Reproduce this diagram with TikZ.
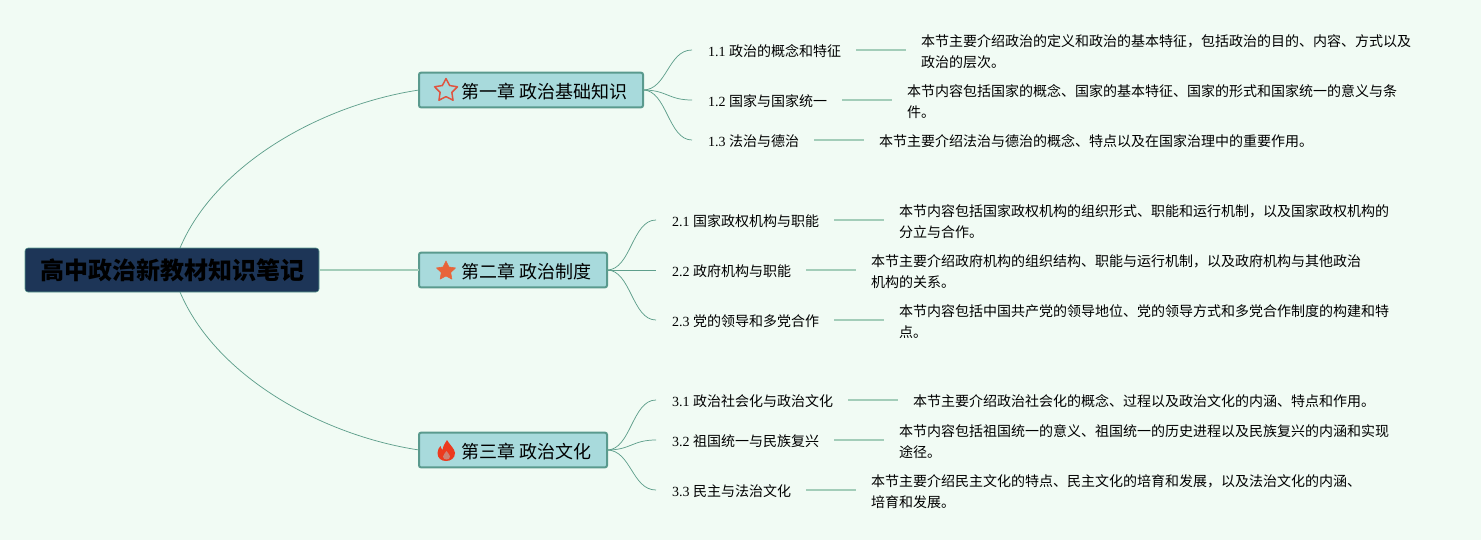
\documentclass[tikz,border=0pt]{standalone}
\usepackage{fontspec}
\setmainfont{Liberation Serif}
\newfontfamily\cjk{Noto Sans CJK SC}
\usetikzlibrary{shapes.geometric}
\definecolor{bgc}{HTML}{F1FBF4}
\definecolor{rootc}{HTML}{1D3557}
\definecolor{chapc}{HTML}{A8DADC}
\definecolor{chapb}{HTML}{5A9A8E}
\definecolor{linec}{HTML}{5F9F8C}
\definecolor{barc}{HTML}{A3CDB9}
\definecolor{starline}{HTML}{E0533F}
\definecolor{starfill}{HTML}{E8643A}
\definecolor{flamec}{HTML}{EC3A1E}
\newcommand{\zh}[1]{{\cjk #1}}
\tikzset{
  x=0.75pt,y=-0.75pt,
  rootbox/.style={draw=chapb,line width=0.4pt,outer sep=0pt,fill=rootc,rounded corners=2.2pt,minimum width=220.5pt,minimum height=33pt,inner sep=0pt,text=black,font=\cjk\fontsize{18pt}{22pt}\selectfont\bfseries},
  chapbox/.style={draw=chapb,line width=1.5pt,outer sep=0pt,fill=chapc,rounded corners=1.5pt,minimum height=26pt,inner sep=0pt,text=black,anchor=west,font=\cjk\fontsize{13.5pt}{16pt}\selectfont},
  chaptext/.style={anchor=west,inner sep=0pt,text=black,font=\cjk\fontsize{13.5pt}{16pt}\selectfont},
  secnode/.style={anchor=west,inner xsep=12pt,inner ysep=2pt,outer sep=0pt,text=black,font=\fontsize{10.5pt}{15.75pt}\selectfont},
  detnode/.style={anchor=west,inner xsep=11.25pt,inner ysep=0pt,outer sep=0pt,align=left,text=black,font=\cjk\fontsize{10.5pt}{15.75pt}\selectfont},
  branch/.style={draw=linec,line width=0.55pt},
  bar/.style={draw=barc,line width=1pt},
}
\begin{document}
\begin{tikzpicture}
\useasboundingbox[fill=bgc] (0,0) rectangle (1481,540);
% root
\node[rootbox] (root) at (172,270) {高中政治新教材知识笔记};
\coordinate (rootT) at (180,248);
\coordinate (rootB) at (180,292);
% chapters
\node[chapbox,minimum width=168pt] (c1) at (419,90) {};
\node[chapbox,minimum width=141pt] (c2) at (419,270) {};
\node[chapbox,minimum width=141pt] (c3) at (419,450) {};
\node[chaptext] (t1) at (461.5,91.5) {第一章 政治基础知识};
\node[chaptext] (t2) at (461.5,271.5) {第二章 政治制度};
\node[chaptext] (t3) at (461.5,451.5) {第三章 政治文化};
% icons
\node[star,star points=5,star point ratio=1.95,minimum size=18pt,inner sep=0pt,draw=starline,fill=chapc,line width=1.1pt,line join=round] (i1) at (446,90.5) {};
\node[star,star points=5,star point ratio=2.0,minimum size=15pt,inner sep=0pt,fill=starfill,draw=starfill,line width=0.4pt,line join=round] (i2) at (446,271) {};
\fill[flamec] (447,440) .. controls (449,444) and (455,449) .. (455,453)
  .. controls (455,458) and (451,461) .. (446,461)
  .. controls (441,461) and (437.5,458) .. (437.5,453)
  .. controls (437.5,450) and (439,447.5) .. (440.5,446)
  .. controls (441,448) and (441.5,449) .. (442.5,450)
  .. controls (443,446) and (445,443) .. (447,440) -- cycle;
\fill[chapc!45!flamec] (446.5,451) .. controls (447.5,453) and (450,454.5) .. (450,456.5)
  .. controls (450,458.5) and (448.5,459.5) .. (446.5,459.5)
  .. controls (444.5,459.5) and (443,458.5) .. (443,456.5)
  .. controls (443,454.5) and (445.5,453) .. (446.5,451) -- cycle;
% level-2 nodes
\node[secnode] (s11) at (692,51) {1.1 \zh{政治的概念和特征}};
\node[secnode] (s12) at (692,101) {1.2 \zh{国家与国家统一}};
\node[secnode] (s13) at (692,141) {1.3 \zh{法治与德治}};
\node[secnode] (s21) at (656,221) {2.1 \zh{国家政权机构与职能}};
\node[secnode] (s22) at (656,271) {2.2 \zh{政府机构与职能}};
\node[secnode] (s23) at (656,321) {2.3 \zh{党的领导和多党合作}};
\node[secnode] (s31) at (656,401) {3.1 \zh{政治社会化与政治文化}};
\node[secnode] (s32) at (656,441) {3.2 \zh{祖国统一与民族复兴}};
\node[secnode] (s33) at (656,491) {3.3 \zh{民主与法治文化}};
% details
\node[detnode] (d11) at (906,51.5) {本节主要介绍政治的定义和政治的基本特征，包括政治的目的、内容、方式以及\\政治的层次。};
\node[detnode] (d12) at (892,101.5) {本节内容包括国家的概念、国家的基本特征、国家的形式和国家统一的意义与条\\件。};
\node[detnode] (d13) at (864,141.5) {本节主要介绍法治与德治的概念、特点以及在国家治理中的重要作用。};
\node[detnode] (d21) at (884,221.5) {本节内容包括国家政权机构的组织形式、职能和运行机制，以及国家政权机构的\\分立与合作。};
\node[detnode] (d22) at (856,271.5) {本节主要介绍政府机构的组织结构、职能与运行机制，以及政府机构与其他政治\\机构的关系。};
\node[detnode] (d23) at (884,321.5) {本节内容包括中国共产党的领导地位、党的领导方式和多党合作制度的构建和特\\点。};
\node[detnode] (d31) at (898,401.5) {本节主要介绍政治社会化的概念、过程以及政治文化的内涵、特点和作用。};
\node[detnode] (d32) at (884,441.5) {本节内容包括祖国统一的意义、祖国统一的历史进程以及民族复兴的内涵和实现\\途径。};
\node[detnode] (d33) at (856,491.5) {本节主要介绍民主文化的特点、民主文化的培育和发展，以及法治文化的内涵、\\培育和发展。};
% root branches
\draw[branch] (rootT) .. controls (215,165) and (320,105) .. (c1.west);
\draw[bar] (root.east) -- (c2.west);
\draw[branch] (rootB) .. controls (215,375) and (320,435) .. (c3.west);
% chapter branches
\foreach \c/\s in {c1/s11,c1/s12,c1/s13,c2/s21,c2/s22,c2/s23,c3/s31,c3/s32,c3/s33}{
  \draw[branch] (\c.east) .. controls +(24,0) and ([xshift=-18pt,yshift=0.75pt]\s.west) .. ([yshift=0.75pt]\s.west);
}
% bars
\foreach \n in {11,12,13,21,22,23,31,32,33}{
  \draw[bar] ([yshift=0.75pt,xshift=-0.75pt]s\n.east) -- ([yshift=0.75pt]s\n.east -| d\n.west);
}
\end{tikzpicture}
\end{document}
